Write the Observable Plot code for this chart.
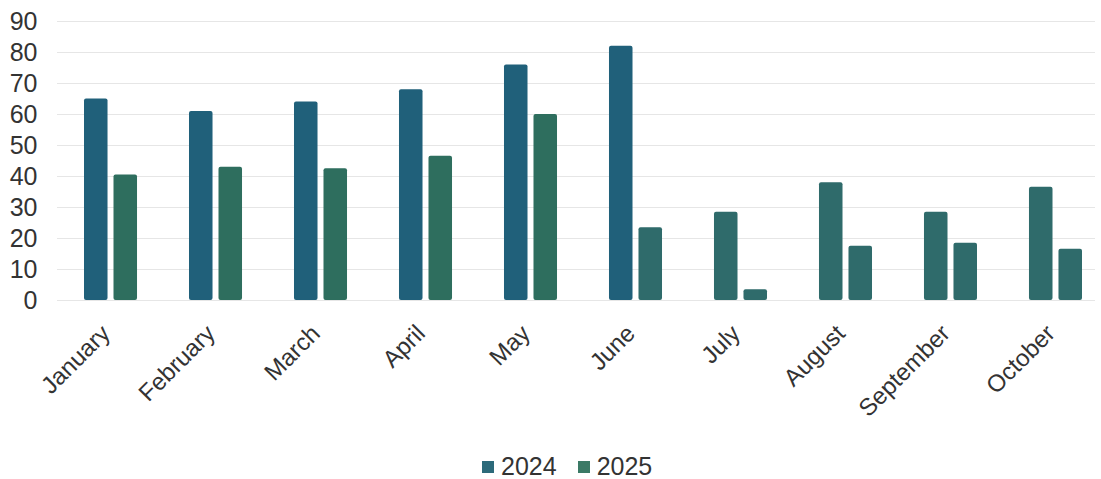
<!DOCTYPE html>
<html>
<head>
<meta charset="utf-8">
<script src="https://cdn.jsdelivr.net/npm/d3@7"></script>
<script src="https://cdn.jsdelivr.net/npm/@observablehq/plot@0.6"></script>
<style>
  body { margin: 0; background: #fff; font-family: "Liberation Sans", Arial, sans-serif; }
  #legend { height: 39px; display: flex; align-items: center; padding-left: 482px; padding-top: 14px; box-sizing: border-box; font-size: 25px; color: #333; }
  #legend .item { display: flex; align-items: center; margin-right: 21px; }
  #legend .sw { width: 12px; height: 12px; margin-right: 7px; }
</style>
</head>
<body>
<div id="chart"></div>
<div id="legend"></div>
<script>
const months = ["January","February","March","April","May","June","July","August","September","October"];
const years = ["2024","2025"];
const values2024 = [65, 61, 64, 68, 76, 82, 28.5, 38, 28.5, 36.5];
const values2025 = [40.5, 43, 42.5, 46.5, 60, 23.5, 3.5, 17.5, 18.5, 16.5];
const yTicks = [0, 10, 20, 30, 40, 50, 60, 70, 80, 90];

const colors = {"2024": "#20607a", "2025": "#2e6e5e"};
const laterColor = "#2f6b6b";
const legendColors = {"2024": "#2c6a7a", "2025": "#3b7a66"};

const data = [];
months.forEach((m, i) => {
  data.push({month: m, idx: i, year: "2024", value: values2024[i]});
  data.push({month: m, idx: i, year: "2025", value: values2025[i]});
});
const fillOf = d => (d.year === "2024" ? (d.idx < 6 ? colors["2024"] : laterColor)
                                       : (d.idx < 5 ? colors["2025"] : laterColor));

const chart = Plot.plot({
  width: 1101,
  height: 440,
  marginLeft: 57,
  marginRight: 6,
  marginTop: 21,
  marginBottom: 140,
  style: {fontFamily: "'Liberation Sans', Arial, sans-serif", color: "#333", background: "#fff"},
  x: {domain: months, range: [84, 1082], paddingInner: 0.495, paddingOuter: 0, round: false, label: null},
  y: {domain: [0, 90], label: null},
  marks: [
    Plot.gridY(yTicks, {stroke: "#e6e6e6", strokeOpacity: 1, strokeWidth: 1.2}),
    Plot.axisY(yTicks, {tickSize: 0, tickPadding: 20, fontSize: 25, label: null, fill: "#333"}),
    Plot.axisX({tickSize: 0, tickPadding: 29, dx: -5, tickRotate: -45, fontSize: 24, label: null, fill: "#333"}),
    Plot.barY(data.filter(d => d.year === "2024"), {x: "month", y: "value", fill: fillOf, insetRight: 29.5, rx: 2}),
    Plot.barY(data.filter(d => d.year === "2025"), {x: "month", y: "value", fill: fillOf, insetLeft: 29.5, rx: 2})
  ]
});
document.getElementById("chart").appendChild(chart);

const legend = document.getElementById("legend");
years.forEach(y => {
  const item = document.createElement("div");
  item.className = "item";
  const sw = document.createElement("div");
  sw.className = "sw";
  sw.style.background = legendColors[y];
  const t = document.createElement("span");
  t.textContent = y;
  item.appendChild(sw);
  item.appendChild(t);
  legend.appendChild(item);
});
</script>
</body>
</html>
